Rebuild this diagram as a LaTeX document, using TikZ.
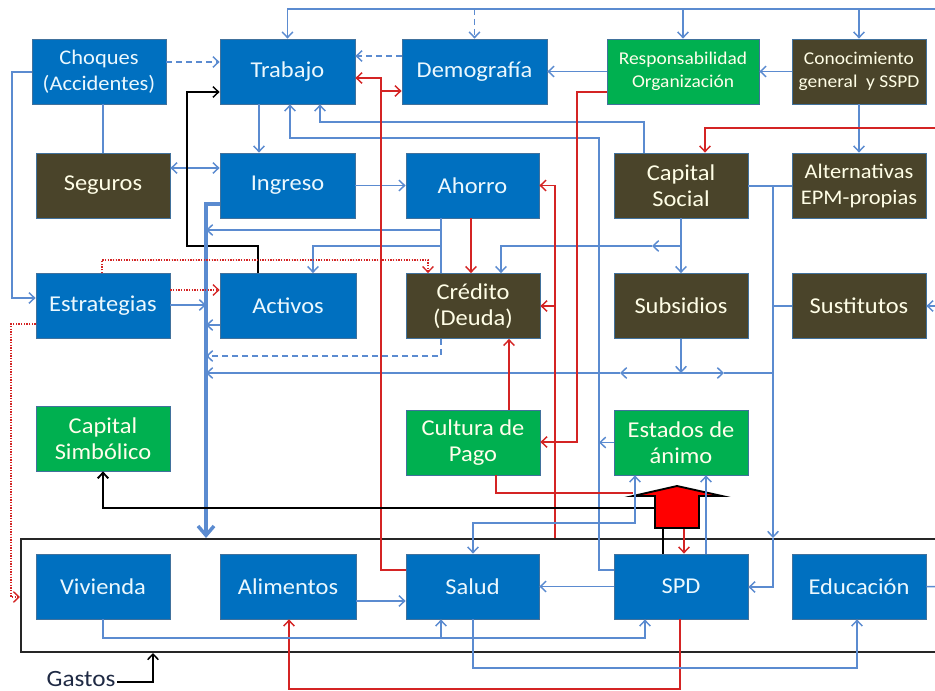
\documentclass[tikz,border=0pt]{standalone}
\usepackage{fontspec}
\setmainfont{Carlito}[FakeStretch=1.08]
\usetikzlibrary{arrows.meta}
\definecolor{boxblue}{HTML}{0070C0}
\definecolor{boxbrown}{HTML}{4A442A}
\definecolor{boxgreen}{HTML}{00B050}
\definecolor{edgeline}{HTML}{41719C}
\definecolor{flow}{HTML}{5B8BD0}
\definecolor{flowred}{HTML}{D42424}
\definecolor{labelink}{HTML}{1F2A44}
\begin{document}
\begin{tikzpicture}[x=0.75pt,y=-0.75pt,
  box/.style={draw=edgeline, line width=0.6pt, minimum width=100.5pt, minimum height=48.75pt,
    text=white, align=center, inner sep=1pt, font=\fontsize{17}{19.5}\selectfont},
  bluebox/.style={box, fill=boxblue, text=white!92!cyan},
  brownbox/.style={box, fill=boxbrown, text=white!90!yellow},
  greenbox/.style={box, fill=boxgreen, text=white!92!yellow},
  smalltext/.style={font=\fontsize{13.5}{17.25}\selectfont},
  midtext/.style={font=\fontsize{15.6}{19.5}\selectfont},
  toarr/.style={-{Straight Barb[length=4.2pt,width=8pt]}},
  botharr/.style={{Straight Barb[length=4.2pt,width=8pt]}-{Straight Barb[length=4.2pt,width=8pt]}},
  bigarr/.style={-{Straight Barb[length=7pt,width=12pt]}},
  fb/.style={flow, line width=1.1pt},
  fr/.style={flowred, line width=1.1pt},
  fk/.style={black, line width=1.1pt},
  dashline/.style={dash pattern=on 4.5pt off 3pt},
  dotline/.style={line width=1pt, dash pattern=on 1pt off 1pt}
]
\fill[white] (0,0) rectangle (935,691);
\useasboundingbox (0,0) rectangle (935,691);

% outside feeds and bus
\coordinate (topin) at (945,9);
\coordinate (redin) at (945,128);
\coordinate (sustin) at (945,306);
\coordinate (educout) at (945,587);
\coordinate (bus) at (206,0);

% Gastos frame
\node[draw=black!85, line width=1.5pt, minimum width=696.75pt, minimum height=84.75pt, inner sep=0pt] (gastos) at (485.5,595.5) {};

% row 1
\node[bluebox, midtext] (choques) at (99,71.5) {Choques\\(Accidentes)};
\node[bluebox, minimum width=101.25pt] (trabajo) at (287.5,71.5) {Trabajo};
\node[bluebox, minimum width=108.75pt] (demog) at (474.5,71.5) {Demografía};
\node[greenbox, smalltext, minimum width=114pt] (resp) at (683,71.5) {Responsabilidad\\Organización};
\node[brownbox, smalltext] (conoc) at (859,71.5) {Conocimiento\\general\ \ y SSPD};
% row 2
\node[brownbox] (seguros) at (103,185.5) {Seguros};
\node[bluebox, minimum width=101.25pt] (ingreso) at (287.5,185.5) {Ingreso};
\node[bluebox, minimum width=99.75pt] (ahorro) at (472.5,185.5) {Ahorro};
\node[brownbox] (capsoc) at (681,185.5) {Capital\\Social};
\node[brownbox, midtext] (alt) at (859,185.5) {Alternativas\\EPM-propias};
% row 3
\node[bluebox] (estr) at (103,306) {Estrategias};
\node[bluebox, minimum width=102pt] (activos) at (288,306) {Activos};
\node[brownbox] (credito) at (473,306) {Crédito\\(Deuda)};
\node[brownbox] (subs) at (681,306) {Subsidios};
\node[brownbox] (sust) at (859,306) {Sustitutos};
% row 4
\node[greenbox] (simb) at (103,438.5) {Capital\\Simbólico};
\node[greenbox] (cultura) at (473,442.5) {Cultura de\\Pago};
\node[greenbox] (estados) at (681,442.5) {Estados de\\ánimo};
% row 5 (gastos)
\node[bluebox] (viv) at (103,586.5) {Vivienda};
\node[bluebox, minimum width=102pt] (alim) at (288,586.5) {Alimentos};
\node[bluebox, minimum width=99.75pt] (salud) at (472.5,586.5) {Salud};
\node[bluebox] (spd) at (681,586.5) {SPD};
\node[bluebox] (educ) at (859,586.5) {Educación};

% feeds from the top bus
\draw[fb,toarr] (topin) -| (trabajo.north);
\draw[fb,dashline,toarr] (topin -| demog.north) -- (demog.north);
\draw[fb,toarr] (topin -| resp.north) -- (resp.north);
\draw[fb,toarr] (topin -| conoc.north) -- (conoc.north);

% Choques and Seguros
\draw[fb,dashline,toarr] (choques.east |- 0,62) -- (trabajo.west |- 0,62);
\draw[fb,toarr] (choques.west |- 0,72) -| (12,298) -- (estr.west |- 0,298);
\draw[fb] (seguros.north) -- (seguros.north |- choques.south);
\draw[fb,botharr] (seguros.east |- 0,168) -- (ingreso.west |- 0,168);

% upper rows
\draw[fb,toarr] (conoc.west) -- (resp.east);
\draw[fb,toarr] (conoc.south) -- (alt.north);
\draw[fb,toarr] (resp.west) -- (demog.east);
\draw[fb,dashline,toarr] (demog.west |- 0,56) -- (trabajo.east |- 0,56);
\draw[fb,toarr] (trabajo.south -| 259,0) -- (ingreso.north -| 259,0);
\draw[fb,toarr] (ingreso.east) -- (ahorro.west);

% returns to Trabajo
\draw[fb,toarr] (capsoc.north -| 644,0) |- (320,122) -- (trabajo.south -| 320,0);
\draw[fb,toarr] (spd.west |- 0,570) -| (599,138) -| (trabajo.south -| 290,0);
\draw[fb,toarr] (estados.west) -- (estados.west -| 599,0);
\draw[fk,toarr] (activos.north -| 258,0) |- (187,246) |- (trabajo.west |- 0,92);

% thick feed into the expenses
\draw[fb,line width=2.6pt,bigarr] (ingreso.west |- 0,204) -| (gastos.north -| bus);
\draw[fb,toarr] (ahorro.south -| 441,0) |- (bus |- 0,230);
\draw[fb] (ahorro.south -| 441,0) -- (credito.north -| 441,0);
\draw[fb,toarr] (441,246) -| (activos.north -| 313,0);
\draw[fb,dashline,toarr] (credito.south -| 441,0) |- (bus |- 0,356);
\draw[fb,toarr] (estr.east |- 0,305) -- (bus |- 0,305);
\draw[fb,toarr] (activos.west |- 0,325) -- (bus |- 0,325);

% Capital Social, Alternativas, Sustitutos
\draw[fb,toarr] (capsoc.south) -- (subs.north);
\draw[fb,toarr] (capsoc.south |- 0,246) -- (652,246);
\draw[fb,toarr] (652,246) -| (credito.north -| 501,0);
\draw[fb] (capsoc.east |- 0,186) -- (alt.west |- 0,186);
\draw[fb,toarr] (773,186) -- (gastos.north -| 773,0);
\draw[fb,toarr] (gastos.north -| 773,0) |- (spd.east |- 0,587);
\draw[fb] (sust.west) -- (sust.west -| 773,0);
\draw[fb,toarr] (sustin) -- (sust.east);

% Subsidios
\draw[fb,toarr] (subs.south) -- (subs.south |- 0,373);
\draw[fb,toarr] (subs.south |- 0,373) -- (724,373);
\draw[fb] (724,373) -- (773,373);
\draw[fb,toarr] (subs.south |- 0,373) -- (620,373);
\draw[fb,toarr] (620,373) -- (bus |- 0,373);

% red flows
\draw[fr,toarr] (redin) -| (capsoc.north -| 705,0);
\draw[fr,toarr] (resp.west |- 0,92) -| (577,442) -- (cultura.east |- 0,442);
\draw[fr,toarr] (gastos.north -| 555,0) |- (ahorro.east);
\draw[fr,toarr] (555,306) -- (credito.east);
\draw[fr,toarr] (salud.west |- 0,570) -| (381,78) -- (trabajo.east |- 0,78);
\draw[fr,toarr] (381,91) -- (demog.west |- 0,91);
\draw[fr,toarr] (ahorro.south -| 471,0) -- (credito.north -| 471,0);
\draw[fr,toarr] (cultura.north -| 509,0) -- (credito.south -| 509,0);
\draw[fr] (cultura.south -| 496,0) |- (633,493);
\draw[fr,toarr] (spd.south -| 680,0) |- (289,689) -- (alim.south -| 289,0);

% red dotted flows from Estrategias
\draw[fr,dotline,toarr] (estr.north -| 102,0) |- (428,260) -- (credito.north -| 428,0);
\draw[fr,dotline,toarr] (estr.east |- 0,290) -- (activos.west |- 0,290);
\draw[fr,dotline,toarr] (estr.west |- 0,324) -| (11,597) -- (gastos.west |- 0,597);

% inside the expenses
\draw[fb,toarr] (spd.west) -- (salud.east);
\draw[fb,toarr] (alim.east |- 0,601) -- (salud.west |- 0,601);
\draw[fb,toarr] (viv.south) |- (645,638) -- (spd.south -| 645,0);
\draw[fb,toarr] (441,638) -- (salud.south -| 441,0);
\draw[fb,toarr] (salud.south -| 473,0) |- (857,668) -- (educ.south -| 857,0);
\draw[fb] (educ.east) -- (educout);

% block arrow above SPD
\draw[fk] (spd.north -| 663,0) -- (663,528);
\draw[fr,toarr] (684,528) -- (spd.north -| 684,0);
\draw[fk,line width=1.4pt,toarr] (655,508) -| (simb.south);
\draw[fill=red, draw=black, line width=1.4pt, line join=miter]
  (655,528) -- (655,496) -- (633,496) -- (677,486) -- (722,496) -- (699,496) -- (699,528) -- cycle;
\draw[fb,botharr] (salud.north -| 473,0) |- (635,523) -- (estados.south -| 635,0);
\draw[fb,toarr] (spd.north -| 706,0) -- (estados.south -| 706,0);

% label of the expenses frame
\node[font=\fontsize{17.5}{19.5}\selectfont, text=labelink, anchor=base west, inner sep=1pt] (glabel) at (45,686) {Gastos};
\draw[fk,toarr] (glabel.east |- 0,682) -| (gastos.south -| 153,0);
\end{tikzpicture}
\end{document}
